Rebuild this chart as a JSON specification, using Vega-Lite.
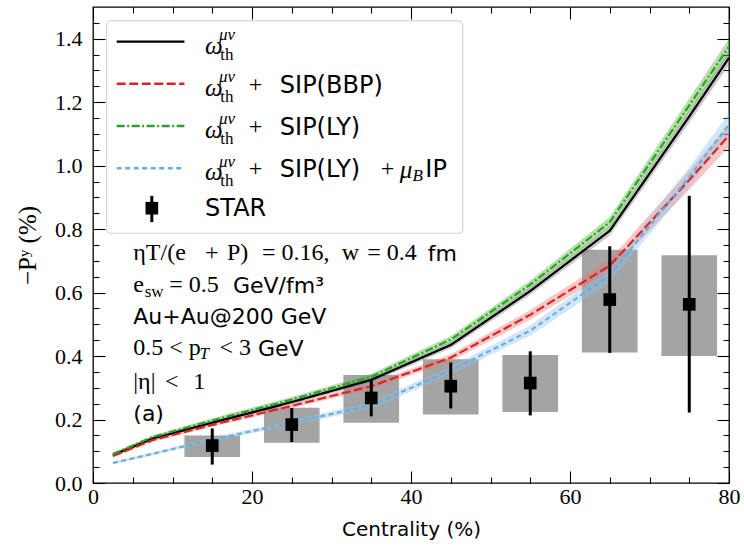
{
  "$schema": "https://vega.github.io/schema/vega-lite/v6.json",
  "width": 636,
  "height": 476,
  "autosize": "none",
  "padding": {"left": 93, "top": 7, "right": 15, "bottom": 69},
  "background": "white",
  "config": {
    "view": {"stroke": "#000000", "strokeWidth": 1.3},
    "axis": {"grid": false, "domain": false, "tickColor": "#000000", "labelColor": "#000000", "titleColor": "#000000", "labelFont": "Liberation Serif", "labelFontSize": 22, "tickWidth": 1.1, "labelFlush": false}
  },
  "datasets": {
    "curves": [
      {"s": "th", "x": 2.5, "y": 0.088, "lo": 0.084, "hi": 0.092},
      {"s": "th", "x": 7.5, "y": 0.140, "lo": 0.135, "hi": 0.145},
      {"s": "th", "x": 15, "y": 0.190, "lo": 0.184, "hi": 0.196},
      {"s": "th", "x": 25, "y": 0.255, "lo": 0.248, "hi": 0.262},
      {"s": "th", "x": 35, "y": 0.325, "lo": 0.317, "hi": 0.333},
      {"s": "th", "x": 45, "y": 0.435, "lo": 0.425, "hi": 0.445},
      {"s": "th", "x": 55, "y": 0.605, "lo": 0.593, "hi": 0.617},
      {"s": "th", "x": 65, "y": 0.795, "lo": 0.780, "hi": 0.810},
      {"s": "th", "x": 75, "y": 1.155, "lo": 1.135, "hi": 1.175},
      {"s": "th", "x": 80, "y": 1.340, "lo": 1.318, "hi": 1.362},
      {"s": "BBP", "x": 2.5, "y": 0.085, "lo": 0.081, "hi": 0.089},
      {"s": "BBP", "x": 7.5, "y": 0.135, "lo": 0.130, "hi": 0.140},
      {"s": "BBP", "x": 15, "y": 0.183, "lo": 0.177, "hi": 0.189},
      {"s": "BBP", "x": 25, "y": 0.243, "lo": 0.236, "hi": 0.250},
      {"s": "BBP", "x": 35, "y": 0.305, "lo": 0.296, "hi": 0.314},
      {"s": "BBP", "x": 45, "y": 0.395, "lo": 0.384, "hi": 0.406},
      {"s": "BBP", "x": 55, "y": 0.530, "lo": 0.515, "hi": 0.545},
      {"s": "BBP", "x": 65, "y": 0.685, "lo": 0.665, "hi": 0.705},
      {"s": "BBP", "x": 75, "y": 0.955, "lo": 0.925, "hi": 0.985},
      {"s": "BBP", "x": 80, "y": 1.095, "lo": 1.060, "hi": 1.130},
      {"s": "LY", "x": 2.5, "y": 0.091, "lo": 0.087, "hi": 0.095},
      {"s": "LY", "x": 7.5, "y": 0.145, "lo": 0.140, "hi": 0.150},
      {"s": "LY", "x": 15, "y": 0.197, "lo": 0.190, "hi": 0.204},
      {"s": "LY", "x": 25, "y": 0.263, "lo": 0.255, "hi": 0.271},
      {"s": "LY", "x": 35, "y": 0.335, "lo": 0.326, "hi": 0.344},
      {"s": "LY", "x": 45, "y": 0.452, "lo": 0.441, "hi": 0.463},
      {"s": "LY", "x": 55, "y": 0.625, "lo": 0.612, "hi": 0.638},
      {"s": "LY", "x": 65, "y": 0.822, "lo": 0.806, "hi": 0.838},
      {"s": "LY", "x": 75, "y": 1.190, "lo": 1.168, "hi": 1.212},
      {"s": "LY", "x": 80, "y": 1.375, "lo": 1.350, "hi": 1.400},
      {"s": "LYmu", "x": 2.5, "y": 0.063, "lo": 0.059, "hi": 0.067},
      {"s": "LYmu", "x": 7.5, "y": 0.092, "lo": 0.087, "hi": 0.097},
      {"s": "LYmu", "x": 15, "y": 0.137, "lo": 0.131, "hi": 0.143},
      {"s": "LYmu", "x": 25, "y": 0.190, "lo": 0.182, "hi": 0.198},
      {"s": "LYmu", "x": 35, "y": 0.245, "lo": 0.235, "hi": 0.255},
      {"s": "LYmu", "x": 45, "y": 0.355, "lo": 0.342, "hi": 0.368},
      {"s": "LYmu", "x": 55, "y": 0.480, "lo": 0.464, "hi": 0.496},
      {"s": "LYmu", "x": 65, "y": 0.655, "lo": 0.632, "hi": 0.678},
      {"s": "LYmu", "x": 75, "y": 0.965, "lo": 0.935, "hi": 0.995},
      {"s": "LYmu", "x": 80, "y": 1.130, "lo": 1.095, "hi": 1.165}
    ],
    "star": [
      {"c": 15, "y": 0.118, "elo": 0.058, "ehi": 0.172, "slo": 0.082, "shi": 0.150, "xlo": 11.5, "xhi": 18.5},
      {"c": 25, "y": 0.184, "elo": 0.129, "ehi": 0.236, "slo": 0.127, "shi": 0.237, "xlo": 21.5, "xhi": 28.5},
      {"c": 35, "y": 0.268, "elo": 0.210, "ehi": 0.326, "slo": 0.190, "shi": 0.340, "xlo": 31.5, "xhi": 38.5},
      {"c": 45, "y": 0.305, "elo": 0.235, "ehi": 0.380, "slo": 0.216, "shi": 0.390, "xlo": 41.5, "xhi": 48.5},
      {"c": 55, "y": 0.315, "elo": 0.213, "ehi": 0.415, "slo": 0.224, "shi": 0.403, "xlo": 51.5, "xhi": 58.5},
      {"c": 65, "y": 0.578, "elo": 0.410, "ehi": 0.746, "slo": 0.411, "shi": 0.735, "xlo": 61.5, "xhi": 68.5},
      {"c": 75, "y": 0.563, "elo": 0.222, "ehi": 0.905, "slo": 0.400, "shi": 0.718, "xlo": 71.5, "xhi": 78.5}
    ],
    "legbox": [{"x1": 1.71, "x2": 46.5, "y1": 0.787, "y2": 1.456}],
    "legline": [
      {"s": "th", "x1": 2.98, "x2": 11.5, "y": 1.391},
      {"s": "BBP", "x1": 2.98, "x2": 11.5, "y": 1.258},
      {"s": "LY", "x1": 2.98, "x2": 11.5, "y": 1.125},
      {"s": "LYmu", "x1": 2.98, "x2": 11.5, "y": 0.992}
    ],
    "legstar": [{"x": 7.4, "y": 0.866, "lo": 0.822, "hi": 0.905}],
    "ital": [
      {"x": 14.1, "y": 1.378, "t": "ω"},
      {"x": 14.1, "y": 1.245, "t": "ω"},
      {"x": 14.1, "y": 1.112, "t": "ω"},
      {"x": 14.1, "y": 0.979, "t": "ω"},
      {"x": 38.6, "y": 0.986, "t": "μ"}
    ],
    "small": [
      {"x": 15.85, "y": 1.412, "t": "μν"},
      {"x": 15.85, "y": 1.279, "t": "μν"},
      {"x": 15.85, "y": 1.146, "t": "μν"},
      {"x": 15.85, "y": 1.013, "t": "μν"},
      {"x": 40.2, "y": 0.966, "t": "B"},
      {"x": 13.4, "y": 0.405, "t": "T"}
    ],
    "smallroman": [
      {"x": 16.0, "y": 1.350, "t": "th"},
      {"x": 16.0, "y": 1.217, "t": "th"},
      {"x": 16.0, "y": 1.084, "t": "th"},
      {"x": 16.0, "y": 0.951, "t": "th"},
      {"x": 6.5, "y": 0.603, "t": "sw"}
    ],
    "serif": [
      {"x": 19.6, "y": 1.255, "t": "+"},
      {"x": 19.6, "y": 1.122, "t": "+"},
      {"x": 19.6, "y": 0.989, "t": "+"},
      {"x": 36.2, "y": 0.989, "t": "+"},
      {"x": 5.07, "y": 0.724, "t": "ηT/(e"},
      {"x": 14.1, "y": 0.724, "t": "+"},
      {"x": 16.85, "y": 0.724, "t": "P)"},
      {"x": 21.25, "y": 0.724, "t": "= 0.16,"},
      {"x": 31.3, "y": 0.724, "t": "w"},
      {"x": 34.5, "y": 0.724, "t": "= 0.4"},
      {"x": 5.07, "y": 0.623, "t": "e"},
      {"x": 9.6, "y": 0.623, "t": "= 0.5"},
      {"x": 5.07, "y": 0.425, "t": "0.5 < p"},
      {"x": 15.9, "y": 0.425, "t": "< 3"},
      {"x": 5.07, "y": 0.319, "t": "|η|"},
      {"x": 9.05, "y": 0.319, "t": "<"},
      {"x": 12.6, "y": 0.319, "t": "1"}
    ],
    "sans": [
      {"x": 23.5, "y": 1.252, "t": "SIP(BBP)"},
      {"x": 23.5, "y": 1.119, "t": "SIP(LY)"},
      {"x": 23.5, "y": 0.986, "t": "SIP(LY)"},
      {"x": 41.8, "y": 0.986, "t": "IP"},
      {"x": 14.1, "y": 0.862, "t": "STAR"}
    ],
    "sans2": [
      {"x": 42.1, "y": 0.722, "t": "fm"},
      {"x": 17.6, "y": 0.621, "t": "GeV/fm³"},
      {"x": 5.07, "y": 0.522, "t": "Au+Au@200 GeV"},
      {"x": 20.75, "y": 0.423, "t": "GeV"},
      {"x": 5.07, "y": 0.218, "t": "(a)"}
    ]
  },
  "layer": [
    {
      "data": {"name": "star"},
      "mark": {"type": "rect", "color": "#a4a4a4", "opacity": 1},
      "encoding": {
        "x": {"field": "xlo", "type": "quantitative", "scale": {"domain": [0, 80], "nice": false}, "axis": {"orient": "bottom", "values": [0, 20, 40, 60, 80], "tickSize": -12, "labelPadding": 15, "title": "Centrality (%)", "titleFont": "DejaVu Sans", "titleFontSize": 20, "titleFontWeight": "normal", "titlePadding": 12}},
        "x2": {"field": "xhi"},
        "y": {"field": "slo", "type": "quantitative", "scale": {"domain": [0, 1.5], "nice": false}, "axis": {"orient": "left", "values": [0, 0.2, 0.4, 0.6, 0.8, 1.0, 1.2, 1.4], "format": ".1f", "tickSize": -12, "labelPadding": 23, "title": "−Pʸ (%)", "titleFont": "Liberation Serif", "titleFontSize": 25, "titleFontWeight": "normal", "titlePadding": 14}},
        "y2": {"field": "shi"}
      }
    },
    {
      "data": {"name": "curves"},
      "mark": {"type": "area", "opacity": 0.4},
      "encoding": {
        "x": {"field": "x", "type": "quantitative", "axis": {"orient": "bottom", "values": [5, 10, 15, 25, 30, 35, 45, 50, 55, 65, 70, 75], "tickSize": -6, "labels": false, "title": null}},
        "y": {"field": "lo", "type": "quantitative", "stack": null, "axis": {"orient": "left", "values": [0.05, 0.1, 0.15, 0.25, 0.3, 0.35, 0.45, 0.5, 0.55, 0.65, 0.7, 0.75, 0.85, 0.9, 0.95, 1.05, 1.1, 1.15, 1.25, 1.3, 1.35, 1.45], "tickSize": -6, "labels": false, "title": null}},
        "y2": {"field": "hi"},
        "color": {"field": "s", "type": "nominal", "scale": {"domain": ["th", "BBP", "LY", "LYmu"], "range": ["#7a7a7a", "#f07070", "#4caf2a", "#8cc4ec"]}, "legend": null}
      }
    },
    {
      "data": {"name": "legbox"},
      "mark": {"type": "rect", "fill": "white", "fillOpacity": 0.85, "stroke": "#d4d4d4", "strokeWidth": 1.2, "cornerRadius": 4},
      "encoding": {
        "x": {"field": "x1", "type": "quantitative", "axis": null},
        "x2": {"field": "x2"},
        "y": {"field": "y1", "type": "quantitative", "axis": null},
        "y2": {"field": "y2"}
      }
    },
    {
      "data": {"name": "curves"},
      "mark": {"type": "line", "strokeWidth": 2.2},
      "encoding": {
        "x": {"field": "x", "type": "quantitative", "axis": {"orient": "top", "values": [0, 20, 40, 60, 80], "tickSize": -12, "labels": false, "title": null}},
        "y": {"field": "y", "type": "quantitative", "axis": {"orient": "right", "values": [0, 0.2, 0.4, 0.6, 0.8, 1.0, 1.2, 1.4], "tickSize": -12, "labels": false, "title": null}},
        "color": {"field": "s", "type": "nominal", "scale": {"domain": ["th", "BBP", "LY", "LYmu"], "range": ["#000000", "#d62728", "#2ca02c", "#6baed6"]}, "legend": null},
        "strokeDash": {"field": "s", "type": "nominal", "scale": {"domain": ["th", "BBP", "LY", "LYmu"], "range": [[1, 0], [9, 3.5], [8, 2.5, 2, 2.5], [5, 3.5]]}, "legend": null}
      }
    },
    {
      "data": {"name": "legline"},
      "mark": {"type": "rule", "strokeWidth": 2.4},
      "encoding": {
        "x": {"field": "x1", "type": "quantitative", "axis": null},
        "x2": {"field": "x2"},
        "y": {"field": "y", "type": "quantitative", "axis": null},
        "color": {"field": "s", "type": "nominal", "scale": {"domain": ["th", "BBP", "LY", "LYmu"], "range": ["#000000", "#d62728", "#2ca02c", "#6baed6"]}, "legend": null},
        "strokeDash": {"field": "s", "type": "nominal", "scale": {"domain": ["th", "BBP", "LY", "LYmu"], "range": [[1, 0], [9, 3.5], [8, 2.5, 2, 2.5], [5, 3.5]]}, "legend": null}
      }
    },
    {
      "data": {"name": "star"},
      "mark": {"type": "rule", "color": "#000000", "strokeWidth": 3},
      "encoding": {
        "x": {"field": "c", "type": "quantitative", "axis": {"orient": "top", "values": [5, 10, 15, 25, 30, 35, 45, 50, 55, 65, 70, 75], "tickSize": -6, "labels": false, "title": null}},
        "y": {"field": "elo", "type": "quantitative", "axis": {"orient": "right", "values": [0.05, 0.1, 0.15, 0.25, 0.3, 0.35, 0.45, 0.5, 0.55, 0.65, 0.7, 0.75, 0.85, 0.9, 0.95, 1.05, 1.1, 1.15, 1.25, 1.3, 1.35, 1.45], "tickSize": -6, "labels": false, "title": null}},
        "y2": {"field": "ehi"}
      }
    },
    {
      "data": {"name": "star"},
      "mark": {"type": "point", "shape": "square", "filled": true, "color": "#000000", "opacity": 1, "size": 160},
      "encoding": {
        "x": {"field": "c", "type": "quantitative", "axis": null},
        "y": {"field": "y", "type": "quantitative", "axis": null}
      }
    },
    {
      "data": {"name": "legstar"},
      "mark": {"type": "rule", "color": "#000000", "strokeWidth": 3},
      "encoding": {
        "x": {"field": "x", "type": "quantitative", "axis": null},
        "y": {"field": "lo", "type": "quantitative", "axis": null},
        "y2": {"field": "hi"}
      }
    },
    {
      "data": {"name": "legstar"},
      "mark": {"type": "point", "shape": "square", "filled": true, "color": "#000000", "opacity": 1, "size": 160},
      "encoding": {
        "x": {"field": "x", "type": "quantitative", "axis": null},
        "y": {"field": "y", "type": "quantitative", "axis": null}
      }
    },
    {
      "data": {"name": "ital"},
      "mark": {"type": "text", "font": "Liberation Serif", "fontStyle": "italic", "fontSize": 25, "align": "left", "baseline": "middle", "color": "#000000"},
      "encoding": {
        "x": {"field": "x", "type": "quantitative", "axis": null},
        "y": {"field": "y", "type": "quantitative", "axis": null},
        "text": {"field": "t"}
      }
    },
    {
      "data": {"name": "small"},
      "mark": {"type": "text", "font": "Liberation Serif", "fontStyle": "italic", "fontSize": 17, "align": "left", "baseline": "middle", "color": "#000000"},
      "encoding": {
        "x": {"field": "x", "type": "quantitative", "axis": null},
        "y": {"field": "y", "type": "quantitative", "axis": null},
        "text": {"field": "t"}
      }
    },
    {
      "data": {"name": "smallroman"},
      "mark": {"type": "text", "font": "Liberation Serif", "fontSize": 17, "align": "left", "baseline": "middle", "color": "#000000"},
      "encoding": {
        "x": {"field": "x", "type": "quantitative", "axis": null},
        "y": {"field": "y", "type": "quantitative", "axis": null},
        "text": {"field": "t"}
      }
    },
    {
      "data": {"name": "serif"},
      "mark": {"type": "text", "font": "Liberation Serif", "fontSize": 24, "align": "left", "baseline": "middle", "color": "#000000"},
      "encoding": {
        "x": {"field": "x", "type": "quantitative", "axis": null},
        "y": {"field": "y", "type": "quantitative", "axis": null},
        "text": {"field": "t"}
      }
    },
    {
      "data": {"name": "sans"},
      "mark": {"type": "text", "font": "DejaVu Sans", "fontSize": 24, "align": "left", "baseline": "middle", "color": "#000000"},
      "encoding": {
        "x": {"field": "x", "type": "quantitative", "axis": null},
        "y": {"field": "y", "type": "quantitative", "axis": null},
        "text": {"field": "t"}
      }
    },
    {
      "data": {"name": "sans2"},
      "mark": {"type": "text", "font": "DejaVu Sans", "fontSize": 22, "align": "left", "baseline": "middle", "color": "#000000"},
      "encoding": {
        "x": {"field": "x", "type": "quantitative", "axis": null},
        "y": {"field": "y", "type": "quantitative", "axis": null},
        "text": {"field": "t"}
      }
    }
  ],
  "resolve": {"axis": {"x": "independent", "y": "independent"}, "scale": {"color": "independent"}}
}
